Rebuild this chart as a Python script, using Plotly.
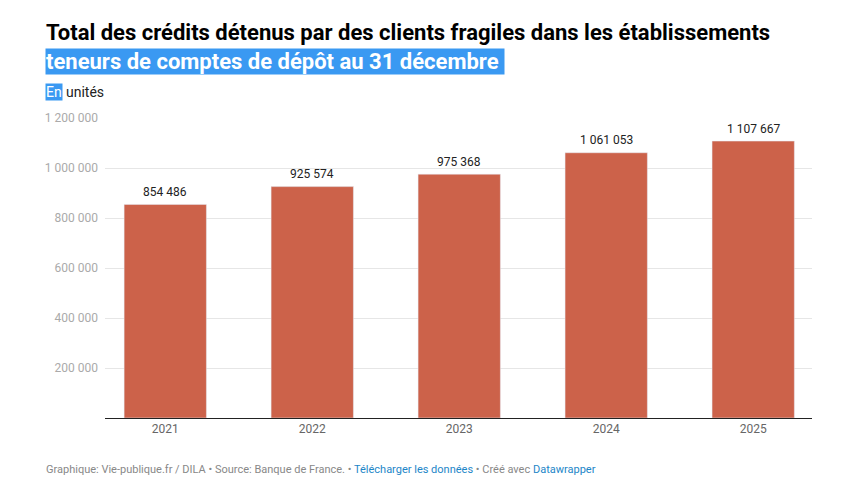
import plotly.graph_objects as go

years = ["2021", "2022", "2023", "2024", "2025"]
values = [854486, 925574, 975368, 1061053, 1107667]
tick_vals = [200000, 400000, 600000, 800000, 1000000, 1200000]
tick_text = ["200 000", "400 000", "600 000", "800 000", "1 000 000", "1 200 000"]

def fmt(v):
    return f"{v:,}".replace(",", " ")

OFF = 8  # page body margin
W, H = 854, 503
# desired on-screen plot area: x 105..812, y 118..418
L, T = 105 - OFF, 118 - OFF
R = W - (812 - OFF)
B = H - (418 - OFF)
PW, PH = W - L - R, H - T - B

def px(x):
    return (x - OFF - L) / PW

def py(y):
    return (H - B - (y - OFF)) / PH

font = "Roboto"

fig = go.Figure(go.Bar(
    x=years, y=values, marker_color="#cc624a", width=0.56,
    hoverinfo="skip",
))

ann = []
for i, v in enumerate(values):
    ann.append(dict(text=fmt(v), x=i, y=v, xref="x", yref="y",
                    xanchor="center", yanchor="bottom", yshift=3.5,
                    font=dict(family=font, size=12, color="#222"), showarrow=False))

pa = []
pa.append(dict(text="<b>Total des crédits détenus par des clients fragiles dans les établissements</b>",
               x=px(44), y=py(33), xanchor="left", yanchor="middle",
               font=dict(family=font, size=22, color="#000")))
pa.append(dict(text="<b>teneurs de comptes de dépôt au 31 décembre </b>",
               x=px(45), y=py(61), xanchor="left", yanchor="middle",
               bgcolor="#3a99f2", borderpad=0,
               font=dict(family=font, size=22, color="#fff")))
pa.append(dict(text="En", x=px(45), y=py(92), xanchor="left", yanchor="middle",
               bgcolor="#3a99f2", borderpad=0,
               font=dict(family=font, size=14, color="#fff")))
pa.append(dict(text="unités", x=px(64), y=py(92), xanchor="left", yanchor="middle",
               font=dict(family=font, size=14, color="#222")))
pa.append(dict(text="Graphique: Vie-publique.fr / DILA • Source: Banque de France. • "
                    "<span style='color:#1d86c8'>Télécharger les données</span> • Créé avec "
                    "<span style='color:#1d86c8'>Datawrapper</span>",
               x=px(44), y=py(469), xanchor="left", yanchor="middle",
               font=dict(family=font, size=11, color="#888")))
for a in pa:
    a.update(xref="paper", yref="paper", showarrow=False)
ann += pa

fig.update_layout(
    width=W, height=H, margin=dict(l=L, r=R, t=T, b=B),
    paper_bgcolor="#fff", plot_bgcolor="#fff",
    showlegend=False, annotations=ann,
    xaxis=dict(type="category", range=[-0.41, 4.40], showline=True, linecolor="#222",
               linewidth=1, ticks="", tickfont=dict(family=font, size=12, color="#666"),
               fixedrange=True),
    yaxis=dict(range=[0, 1200000], tickvals=tick_vals, ticktext=tick_text,
               showgrid=True, gridcolor="#e6e6e6", gridwidth=1, zeroline=False,
               tickfont=dict(family=font, size=12, color="#aaa"), ticks="", ticklabelstandoff=6,
               fixedrange=True),
)
fig.write_html("out.html")
